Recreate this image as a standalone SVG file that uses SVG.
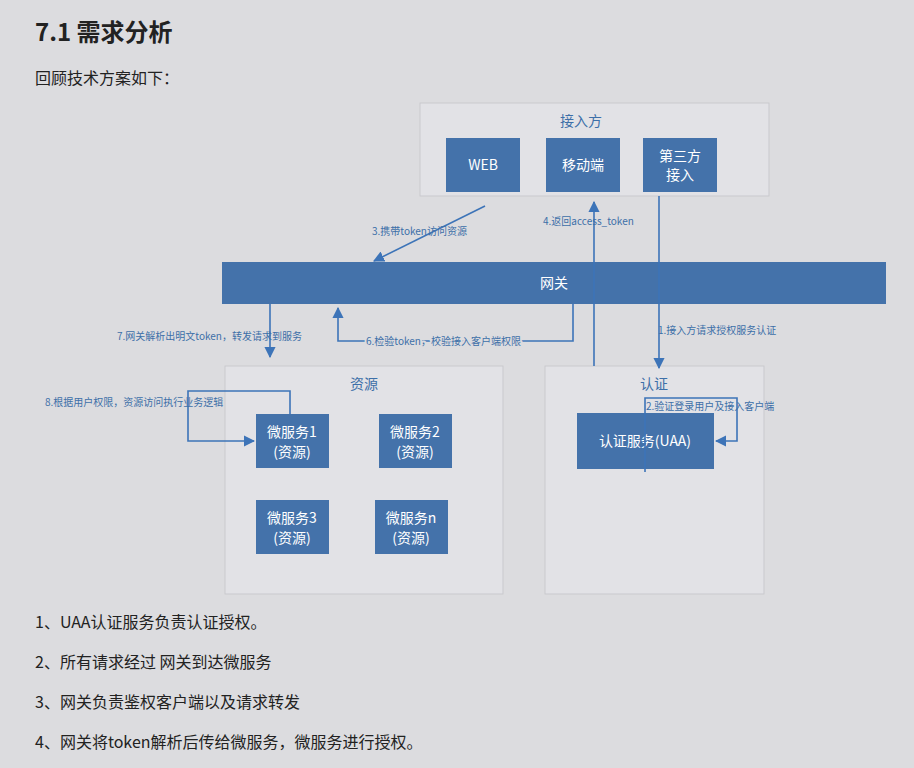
<svg xmlns="http://www.w3.org/2000/svg" width="914" height="768" viewBox="0 0 914 768">
<defs>
<style>
text{font-family:"Noto Sans CJK SC","Liberation Sans",sans-serif}
.box{fill:#4472aa}
.bt{fill:#fff;font-size:14px;text-anchor:middle}
.panel{fill:#e2e2e6;stroke:#c9c9ce;stroke-width:1}
.pt{fill:#3d6fa8;font-size:14px;text-anchor:middle}
.ln{fill:none;stroke:#3d74b8;stroke-width:1.6}
.lb{fill:#3d6fa8;font-size:10px}
.body{fill:#222;font-size:16px}
</style>
<marker id="ar" viewBox="0 0 10 10" refX="9" refY="5" markerWidth="7" markerHeight="7" orient="auto"><path d="M0,0L10,5L0,10z" fill="#3d74b8"/></marker>
</defs>
<rect width="914" height="768" fill="#dcdcdf"/>
<text x="35" y="41" font-size="24" font-weight="bold" fill="#222">7.1 需求分析</text>
<text x="35" y="84" class="body">回顾技术方案如下：</text>

<g id="panel-access"><rect class="panel" x="420" y="103" width="349" height="93"/><text class="pt" x="581" y="126">接入方</text></g>
<g id="web"><rect class="box" x="446" y="138" width="74" height="54"/><text class="bt" x="483" y="170">WEB</text></g>
<g id="mobile"><rect class="box" x="546" y="138" width="74" height="54"/><text class="bt" x="583" y="170">移动端</text></g>
<g id="third"><rect class="box" x="643" y="138" width="74" height="54"/><text class="bt" x="680" y="161">第三方</text><text class="bt" x="680" y="180">接入</text></g>
<g id="gateway"><rect class="box" x="222" y="262" width="664" height="42"/><text class="bt" x="554" y="288">网关</text></g>
<g id="panel-res"><rect class="panel" x="225" y="366" width="278" height="228"/><text class="pt" x="364" y="389">资源</text></g>
<g id="panel-auth"><rect class="panel" x="545" y="366" width="219" height="228"/><text class="pt" x="654" y="389">认证</text></g>
<g id="ms1"><rect class="box" x="256" y="414" width="73" height="54"/><text class="bt" x="292" y="437">微服务1</text><text class="bt" x="292" y="457">(资源)</text></g>
<g id="ms2"><rect class="box" x="379" y="414" width="73" height="54"/><text class="bt" x="415" y="437">微服务2</text><text class="bt" x="415" y="457">(资源)</text></g>
<g id="ms3"><rect class="box" x="256" y="500" width="73" height="54"/><text class="bt" x="292" y="523">微服务3</text><text class="bt" x="292" y="543">(资源)</text></g>
<g id="msn"><rect class="box" x="375" y="500" width="73" height="54"/><text class="bt" x="411" y="523">微服务n</text><text class="bt" x="411" y="543">(资源)</text></g>
<g id="uaa"><rect class="box" x="577" y="413" width="137" height="56"/><text class="bt" x="645" y="446">认证服务(UAA)</text></g>

<g id="connectors">
<path class="ln" d="M485,206L374,261" marker-end="url(#ar)"/>
<text class="lb" x="372" y="235">3.携带token访问资源</text>
<path class="ln" d="M594,366V202" marker-end="url(#ar)"/>
<text class="lb" x="543" y="225">4.返回access_token</text>
<path class="ln" d="M659,196V368" marker-end="url(#ar)"/>
<text class="lb" x="658" y="334">1.接入方请求授权服务认证</text>
<path class="ln" d="M645,472V398H737V441H716" marker-end="url(#ar)"/>
<text class="lb" x="646" y="410">2.验证登录用户及接入客户端</text>
<path class="ln" d="M573,304V341H338V308" marker-end="url(#ar)"/>
<text class="lb" x="366" y="345" style="paint-order:stroke" stroke="#dcdcdf" stroke-width="4">6.检验token，校验接入客户端权限</text>
<path class="ln" d="M270,304V357" marker-end="url(#ar)"/>
<text class="lb" x="117" y="340">7.网关解析出明文token，转发请求到服务</text>
<path class="ln" d="M290,414V391H188V441H254" marker-end="url(#ar)"/>
<text class="lb" x="45" y="406">8.根据用户权限，资源访问执行业务逻辑</text>
</g>

<text x="35" y="628" class="body">1、UAA认证服务负责认证授权。</text>
<text x="35" y="668" class="body">2、所有请求经过 网关到达微服务</text>
<text x="35" y="708" class="body">3、网关负责鉴权客户端以及请求转发</text>
<text x="35" y="748" class="body">4、网关将token解析后传给微服务，微服务进行授权。</text>
</svg>
